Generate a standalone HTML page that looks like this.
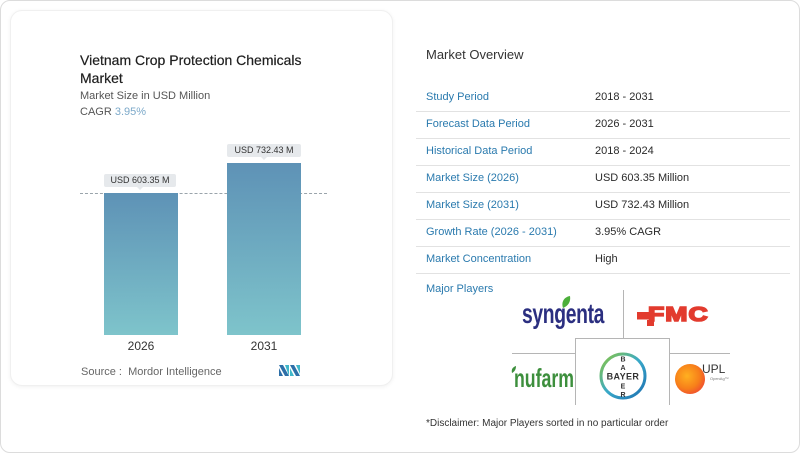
<!DOCTYPE html>
<html><head><meta charset="utf-8">
<style>
html,body{margin:0;padding:0;background:#fff;}
body{width:800px;height:453px;position:relative;overflow:hidden;font-family:"Liberation Sans",sans-serif;}
.frame{position:absolute;left:0;top:0;width:798px;height:451px;border:1px solid #dcdcdc;border-radius:10px;}
.card{position:absolute;left:10px;top:10px;width:381px;height:374px;border:1px solid #f0f0f0;border-radius:12px;box-shadow:0 1px 4px rgba(0,0,0,0.06);background:#fff;}
.t{position:absolute;white-space:nowrap;}
.title{left:80px;font-size:14px;color:#1e1e1e;-webkit-text-stroke:0.2px #1e1e1e;}
.sub{left:80px;font-size:11px;color:#555;}
.bar{position:absolute;width:74px;background:linear-gradient(#5e92b6,#7ec4cb);}
.lbl{position:absolute;height:13px;background:#e6e9ec;border-radius:2px;font-size:9px;color:#333;text-align:center;line-height:13px;}
.lbl:after{content:"";position:absolute;left:50%;bottom:-3px;margin-left:-3px;border-left:3px solid transparent;border-right:3px solid transparent;border-top:3px solid #e6e9ec;}
.yr{position:absolute;font-size:12px;color:#333;width:74px;text-align:center;}
.row{position:absolute;left:416px;width:374px;height:27px;border-bottom:1px solid #e2e2e2;}
.row .k{position:absolute;left:10px;top:7px;font-size:11px;color:#2a7aae;}
.row .v{position:absolute;left:179px;top:7px;font-size:11px;color:#2a2a2a;}
.ln{position:absolute;background:#b5b5b5;}
</style></head><body>
<div class="frame"></div>
<div class="card"></div>

<div class="t title" style="top:52px;">Vietnam Crop Protection Chemicals</div>
<div class="t title" style="top:70px;">Market</div>
<div class="t sub" style="top:90px;">Market Size in USD Million</div>
<div class="t sub" style="top:106px;">CAGR <span style="color:#7ca9c9">3.95%</span></div>

<div style="position:absolute;left:80px;top:193px;width:247px;border-top:1px dashed #9aa4ab;"></div>
<div class="bar" style="left:104px;top:193px;height:142px;"></div>
<div class="bar" style="left:227px;top:163px;height:172px;"></div>
<div class="lbl" style="left:104px;top:174px;width:72px;">USD 603.35 M</div>
<div class="lbl" style="left:227px;top:144px;width:74px;">USD 732.43 M</div>
<div class="yr" style="left:104px;top:339px;">2026</div>
<div class="yr" style="left:227px;top:339px;">2031</div>

<div class="t" style="left:81px;top:366px;font-size:11px;color:#666;">Source :&nbsp; Mordor Intelligence</div>
<svg style="position:absolute;left:279px;top:365px;" width="22" height="11" viewBox="0 0 22 11">
<polygon points="0,0 4,0 10,11 6,11" fill="#2d6fa8"/>
<polygon points="0,3 0,11 4,11" fill="#2d6fa8"/>
<polygon points="6,0 10,0 10,11" fill="#3fb7c9"/>
<polygon points="11,0 15,0 21,11 17,11" fill="#2d6fa8"/>
<polygon points="11,3 11,11 15,11" fill="#3fb7c9"/>
<polygon points="17,0 21,0 21,9" fill="#3fb7c9"/>
</svg>

<div class="t" style="left:426px;top:47px;font-size:13px;color:#333;">Market Overview</div>

<div class="row" style="top:84px;"><span class="k">Study Period</span><span class="v">2018 - 2031</span></div>
<div class="row" style="top:111px;"><span class="k">Forecast Data Period</span><span class="v">2026 - 2031</span></div>
<div class="row" style="top:138px;"><span class="k">Historical Data Period</span><span class="v">2018 - 2024</span></div>
<div class="row" style="top:165px;"><span class="k">Market Size (2026)</span><span class="v">USD 603.35 Million</span></div>
<div class="row" style="top:192px;"><span class="k">Market Size (2031)</span><span class="v">USD 732.43 Million</span></div>
<div class="row" style="top:219px;"><span class="k">Growth Rate (2026 - 2031)</span><span class="v">3.95% CAGR</span></div>
<div class="row" style="top:246px;"><span class="k">Market Concentration</span><span class="v">High</span></div>

<div class="t" style="left:426px;top:283px;font-size:11px;color:#2a7aae;">Major Players</div>

<div class="ln" style="left:623px;top:290px;width:1px;height:48px;"></div>
<div class="ln" style="left:512px;top:353px;width:63px;height:1px;"></div>
<div class="ln" style="left:669px;top:353px;width:61px;height:1px;"></div>
<div style="position:absolute;left:575px;top:338px;width:93px;height:66px;border:1px solid #b5b5b5;border-bottom:none;"></div>

<div class="t" style="left:522px;top:298px;font-size:28px;font-weight:bold;color:#2b2f80;transform:scaleX(0.69);transform-origin:0 0;letter-spacing:-0.5px;">syngenta</div>
<svg style="position:absolute;left:560px;top:295px;" width="12" height="14"><path d="M3,13 C1,7 4,2 10,1 C11,7 8,11 3,13Z" fill="#4caf3a"/></svg>

<svg style="position:absolute;left:636px;top:305px;" width="20" height="24">
<rect x="1" y="7" width="14" height="7.5" fill="#e23b2e"/>
<rect x="11" y="15" width="7" height="6" fill="#e23b2e"/>
</svg>
<div class="t" style="left:648px;top:304px;font-size:20px;font-weight:bold;color:#e23b2e;-webkit-text-stroke:1.6px #e23b2e;transform:scaleX(1.33);transform-origin:0 0;letter-spacing:0.8px;">FMC</div>

<div class="t" style="left:514px;top:363px;font-size:26px;font-weight:bold;color:#3d8f3d;transform:scaleX(0.68);transform-origin:0 0;">nufarm</div>
<svg style="position:absolute;left:511px;top:366px;" width="6" height="8"><path d="M1,7 C0,3 2,1 5,0 C5,4 3,6 1,7Z" fill="#3d8f3d"/></svg>

<svg style="position:absolute;left:598px;top:351px;" width="50" height="50" viewBox="0 0 50 50">
<defs><linearGradient id="bg" x1="0" y1="0" x2="1" y2="1"><stop offset="0" stop-color="#8cc63f"/><stop offset="0.5" stop-color="#39a9c9"/><stop offset="1" stop-color="#1d6fb0"/></linearGradient></defs>
<circle cx="25" cy="25" r="22" fill="#fff" stroke="url(#bg)" stroke-width="3"/>
<text x="25" y="28.3" font-family="Liberation Sans, sans-serif" font-weight="bold" font-size="9" fill="#333" text-anchor="middle" letter-spacing="0.4">BAYER</text>
<text x="25" y="10.5" font-family="Liberation Sans, sans-serif" font-weight="bold" font-size="7" fill="#333" text-anchor="middle">B</text>
<text x="25" y="19" font-family="Liberation Sans, sans-serif" font-weight="bold" font-size="7" fill="#333" text-anchor="middle">A</text>
<text x="25" y="37.5" font-family="Liberation Sans, sans-serif" font-weight="bold" font-size="7" fill="#333" text-anchor="middle">E</text>
<text x="25" y="46" font-family="Liberation Sans, sans-serif" font-weight="bold" font-size="7" fill="#333" text-anchor="middle">R</text>
</svg>

<svg style="position:absolute;left:674px;top:362px;" width="34" height="34" viewBox="0 0 34 34">
<defs><radialGradient id="ug" cx="0.4" cy="0.4" r="0.6"><stop offset="0" stop-color="#ffb020"/><stop offset="0.7" stop-color="#f77f1a"/><stop offset="1" stop-color="#f25a2a"/></radialGradient></defs>
<circle cx="16" cy="17" r="15" fill="url(#ug)"/>
</svg>
<div class="t" style="left:702px;top:362px;font-size:12px;color:#333;">UPL</div>
<div class="t" style="left:710px;top:376px;font-size:4px;color:#777;">OpenAg™</div>

<div class="t" style="left:426px;top:418px;font-size:10px;color:#333;">*Disclaimer: Major Players sorted in no particular order</div>
</body></html>
